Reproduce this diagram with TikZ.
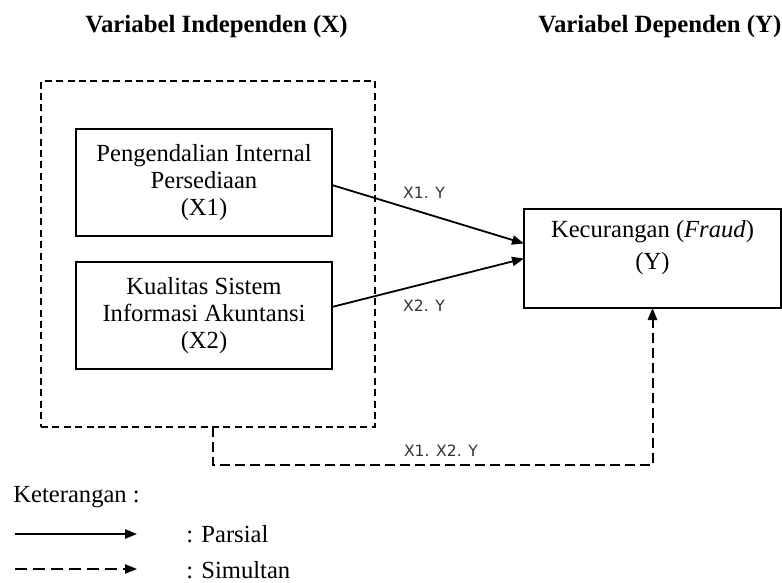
\documentclass[tikz,border=0pt]{standalone}
\usepackage{fontspec}
\setmainfont{Liberation Serif}
\newfontfamily\lblfont{DejaVu Sans}
\usetikzlibrary{arrows.meta,calc}

\begin{document}
\begin{tikzpicture}[x=0.5pt,y=-0.5pt,>={Triangle[length=6pt,width=4.6pt]},
  varbox/.style={draw,line width=1pt,align=center,inner sep=0pt,outer sep=0pt,
    font=\fontsize{12.3}{13.6}\selectfont},
  head/.style={anchor=west,inner sep=0pt,font=\fontsize{12.4}{14}\selectfont\bfseries},
  pathlbl/.style={inner sep=0pt,text=black!80,font=\lblfont\fontsize{7.8}{9}\selectfont},
  legtext/.style={anchor=west,inner sep=0pt,font=\fontsize{12.3}{14}\selectfont},
  partial/.style={->,line width=0.9pt},
  simul/.style={->,line width=1pt,dash pattern=on 5pt off 2.5pt},
  grpbox/.style={draw,line width=1pt,dash pattern=on 3.5pt off 2.2pt,inner sep=0pt,outer sep=0pt}]
\useasboundingbox (0,0) rectangle (782,583);

% Headings
\node[head] (hx) at (85,27) {Variabel Independen (X)};
\node[head] (hy) at (538,27) {Variabel Dependen (Y)};

% === Independent variables inside the dashed group ===
\node[grpbox,minimum width=167pt,minimum height=173pt] (grp) at (208,254) {};
\node[varbox,minimum width=128pt,minimum height=53.5pt] (x1) at (204,182.5)
  {Pengendalian Internal\\Persediaan\\(X1)};
\node[varbox,minimum width=128pt,minimum height=53.5pt] (x2) at (204,315.5)
  {Kualitas Sistem\\Informasi Akuntansi\\(X2)};

% Dependent variable
\node[varbox,minimum width=128.5pt,minimum height=49.5pt] (y) at (652.5,258.5)
  {Kecurangan (\textit{Fraud})\\[2.5pt](Y)\\\mbox{}};

% === Partial effects ===
\draw[partial] ($(x1.east)+(0,2.5)$) -- ($(y.west)+(0,-15)$);
\draw[partial] ($(x2.east)+(0,-8.5)$) -- (y.west);
\node[pathlbl] (l1) at (424,193) {X1. Y};
\node[pathlbl] (l2) at (424,306) {X2. Y};

% Simultaneous effect
\coordinate (turn) at (213,465);
\draw[simul] (grp.south -| turn) -- (turn) -| (y.south);
\node[pathlbl] (l12) at (441,451) {X1. X2. Y};

% === Legend ===
\node[legtext] (ket) at (13,497) {Keterangan :};
\coordinate (pa) at (15,534);
\coordinate (pb) at (137,534);
\coordinate (sa) at (15,569);
\coordinate (sb) at (137,569);
\draw[partial] (pa) -- (pb);
\draw[->,line width=0.9pt,dash pattern=on 6pt off 3pt] (sa) -- (sb);
\node[legtext] (lp) at (186,534) {: Parsial};
\node[legtext] (ls) at (186,570) {: Simultan};
\end{tikzpicture}
\end{document}
